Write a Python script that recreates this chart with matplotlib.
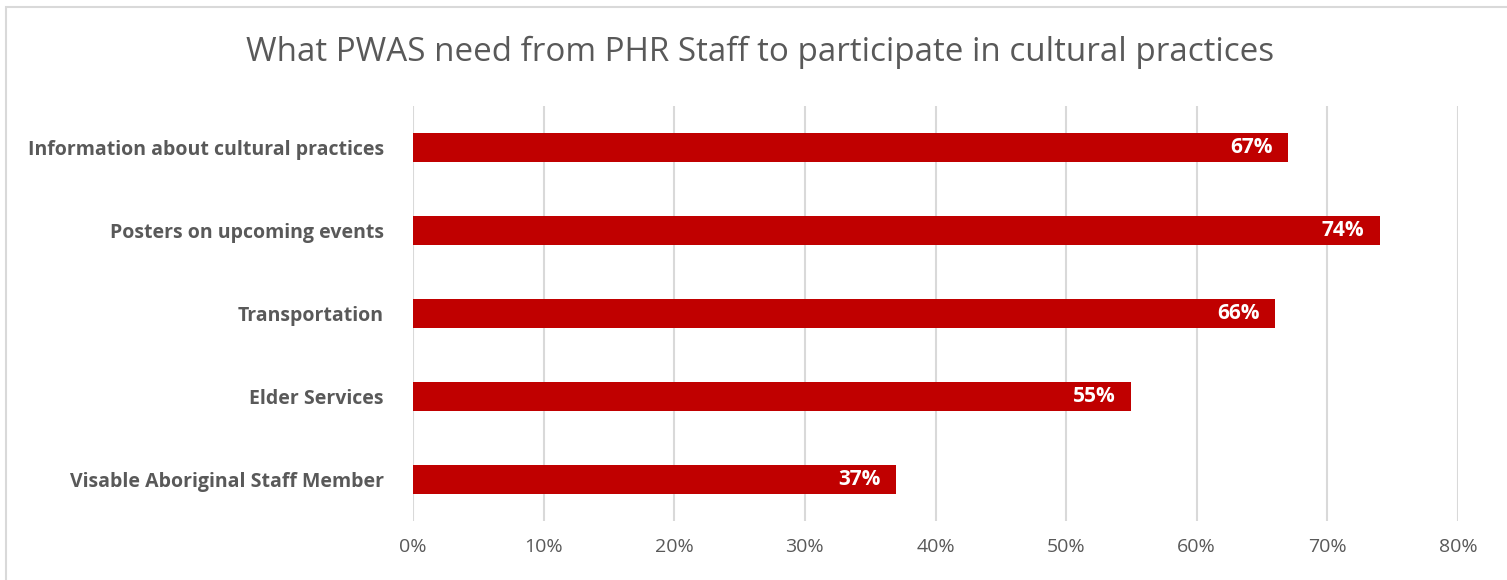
import numpy as np
import matplotlib.pyplot as plt
from matplotlib.patches import Rectangle

categories = ["Information about cultural practices", "Posters on upcoming events",
              "Transportation", "Elder Services", "Visable Aboriginal Staff Member"]
values = [67, 74, 66, 55, 37]
xticks = [0, 10, 20, 30, 40, 50, 60, 70, 80]

fig = plt.figure(figsize=(15.07, 5.8), dpi=100)
ax = fig.add_axes([413 / 1507, 1 - 521 / 580, (1458 - 413) / 1507, 415 / 580])

# chart border (only top/left visible in the crop)
fig.patches.append(Rectangle((6 / 1507, -0.05), 1.1, 1 - 7 / 580 + 0.05,
                             transform=fig.transFigure, fill=False,
                             edgecolor="#d9d9d9", linewidth=1.5))

y = np.arange(len(categories))
ax.barh(y, values, height=0.36, color="#C00000", zorder=3)
for yi, v in zip(y, values):
    ax.text(v - 1.2, yi, f"{v}%", color="white", fontweight="bold",
            fontsize=15, ha="right", va="center", family="Open Sans", zorder=4)

ax.set_ylim(len(categories) - 0.5, -0.5)
ax.set_xlim(0, 80)
ax.set_yticks(y)
ax.set_yticklabels(categories, fontweight="bold", fontsize=14, color="#595959",
                   family="Open Sans")
ax.set_xticks(xticks)
ax.set_xticklabels([f"{t}%" for t in xticks], fontsize=14, color="#595959",
                   family="Open Sans")
ax.tick_params(length=0, pad=12)
ax.tick_params(axis="y", pad=21)
ax.grid(axis="x", color="#d9d9d9", linewidth=1.5, zorder=0)
for s in ax.spines.values():
    s.set_visible(False)

fig.text(0.5045, 1 - 52 / 580, "What PWAS need from PHR Staff to participate in cultural practices",
         ha="center", va="center", fontsize=23.9, color="#595959", family="Open Sans")

fig.savefig("out.png", dpi=100)
